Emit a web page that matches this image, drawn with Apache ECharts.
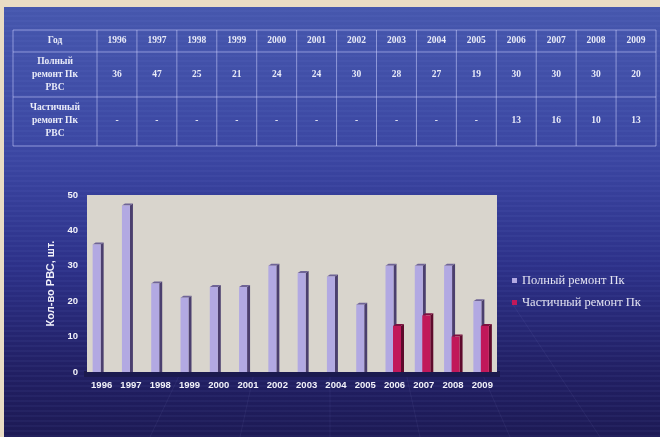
<!DOCTYPE html>
<html>
<head>
<meta charset="utf-8">
<script src="https://cdn.jsdelivr.net/npm/echarts@6/dist/echarts.min.js"></script>
<style>
  html, body { margin: 0; padding: 0; background: #e9dcc4; }
  #chart { width: 660px; height: 437px; }
</style>
</head>
<body>
<div id="chart"></div>
<script>
// Years shown in the table header and on the category axis
const years = ['1996','1997','1998','1999','2000','2001','2002','2003','2004','2005','2006','2007','2008','2009'];
// Full repair of tank roofs (Пк РВС), count per year
const fullRepair = [36, 47, 25, 21, 24, 24, 30, 28, 27, 19, 30, 30, 30, 20];
// Partial repair, recorded from 2006 onward
const partialRepair = [null, null, null, null, null, null, null, null, null, null, 13, 16, 10, 13];
const seriesNames = ['Полный ремонт Пк', 'Частичный ремонт Пк'];
const rowHeaders = [['Год'], ['Полный', 'ремонт Пк', 'РВС'], ['Частичный', 'ремонт Пк', 'РВС']];
const yTicks = [0, 10, 20, 30, 40, 50];

const chart = echarts.init(document.getElementById('chart'), null, { renderer: 'canvas' });

// 3D-looking bar: front face, darker side face and top cap
function bar3d(front, side, cap, shift) {
  return function (params, api) {
    const v = api.value(1);
    if (v == null || isNaN(v)) return;
    const top = api.coord([api.value(0), v]);
    const base = api.coord([api.value(0), 0]);
    const w = 8, d = 3, h = 2;
    const x = top[0] + shift;
    return {
      type: 'group',
      children: [
        { type: 'polygon', shape: { points: [[x + w, top[1]], [x + w + d, top[1] - h], [x + w + d, base[1]], [x + w, base[1]]] }, style: { fill: side } },
        { type: 'polygon', shape: { points: [[x, top[1]], [x + d, top[1] - h], [x + w + d, top[1] - h], [x + w, top[1]]] }, style: { fill: cap } },
        { type: 'rect', shape: { x: x, y: top[1], width: w, height: base[1] - top[1] }, style: { fill: front } }
      ]
    };
  };
}

// ---- background slide with faint horizontal stripes ----
const graphics = [];
graphics.push({
  type: 'rect', z: -20, silent: true,
  shape: { x: 4, y: 7, width: 656, height: 430 },
  style: {
    fill: new echarts.graphic.LinearGradient(0, 0, 0, 1, [
      { offset: 0, color: '#4657ad' },
      { offset: 0.35, color: '#3b46a2' },
      { offset: 0.6, color: '#2d3189' },
      { offset: 0.85, color: '#211f63' },
      { offset: 1, color: '#1d1a55' }
    ])
  }
});
for (let y = 11; y < 437; y += 5) {
  graphics.push({
    type: 'line', z: -19, silent: true,
    shape: { x1: 4, y1: y, x2: 660, y2: y },
    style: { stroke: 'rgba(170,185,255,0.10)', lineWidth: 1 }
  });
}
// faint globe mesh in the lower part
const mesh = [[150, 437, 215, 300], [240, 437, 270, 300], [330, 437, 330, 300], [420, 437, 390, 300], [510, 437, 450, 300], [600, 437, 510, 300]];
mesh.forEach(function (m) {
  graphics.push({
    type: 'line', z: -18, silent: true,
    shape: { x1: m[0], y1: m[1], x2: m[2], y2: m[3] },
    style: { stroke: 'rgba(160,170,230,0.08)', lineWidth: 1 }
  });
});

// ---- data table ----
const tLeft = 13, tRight = 656, firstColRight = 97;
const rowY = [30, 52, 97, 146];
const colW = (tRight - firstColRight) / years.length;
const lineStyle = { stroke: 'rgba(205,210,255,0.55)', lineWidth: 1 };
rowY.forEach(function (y) {
  graphics.push({ type: 'line', z: -5, silent: true, shape: { x1: tLeft, y1: y, x2: tRight, y2: y }, style: lineStyle });
});
[tLeft, firstColRight].concat(years.map(function (_, i) { return firstColRight + colW * (i + 1); })).forEach(function (x) {
  graphics.push({ type: 'line', z: -5, silent: true, shape: { x1: x, y1: rowY[0], x2: x, y2: rowY[3] }, style: lineStyle });
});
const cellFont = 'bold 9.5px "Liberation Serif", "DejaVu Serif", serif';
function cellText(str, cx, cy) {
  graphics.push({
    type: 'text', z: -4, silent: true,
    style: { text: str, x: cx, y: cy, textAlign: 'center', textVerticalAlign: 'middle', font: cellFont, fill: '#e9ebf8' }
  });
}
const firstCx = (tLeft + firstColRight) / 2;
const rowMid = [41, 75, 121];
rowHeaders.forEach(function (lines, r) {
  const n = lines.length;
  lines.forEach(function (ln, k) {
    cellText(ln, firstCx, rowMid[r] + (k - (n - 1) / 2) * 13);
  });
});
years.forEach(function (yr, i) {
  const cx = firstColRight + colW * (i + 0.5);
  cellText(yr, cx, rowMid[0]);
  cellText(String(fullRepair[i]), cx, rowMid[1]);
  cellText(partialRepair[i] == null ? '-' : String(partialRepair[i]), cx, rowMid[2]);
});

// dark floor below the plot area
graphics.push({
  type: 'rect', z: -3, silent: true,
  shape: { x: 84, y: 371, width: 416, height: 6 },
  style: { fill: '#1b1a4e' }
});

const option = {
  backgroundColor: 'transparent',
  animation: false,
  graphic: graphics,
  grid: {
    left: 87, right: 163, top: 195, bottom: 65,
    show: true, backgroundColor: '#d9d5cd', borderWidth: 0
  },
  legend: {
    orient: 'vertical',
    left: 507, top: 269,
    itemWidth: 5, itemHeight: 5, itemGap: 9,
    icon: 'rect',
    textStyle: { color: '#e4e4f2', fontSize: 12.5, fontFamily: '"Liberation Serif", "DejaVu Serif", serif' },
    data: seriesNames
  },
  xAxis: {
    type: 'category',
    data: years,
    axisLine: { show: false },
    axisTick: { show: false },
    axisLabel: {
      color: '#f2f2fa', fontSize: 9.5, fontWeight: 'bold', margin: 8,
      fontFamily: '"Liberation Sans Narrow", "Arial Narrow", "Liberation Sans", sans-serif'
    }
  },
  yAxis: {
    type: 'value',
    min: yTicks[0], max: yTicks[yTicks.length - 1], interval: 10,
    name: 'Кол-во РВС, шт.',
    nameLocation: 'middle', nameRotate: 90, nameGap: 20,
    nameTextStyle: { color: '#f0f0fa', fontSize: 11, fontWeight: 'bold', fontFamily: '"Liberation Sans Narrow", "Liberation Sans", sans-serif' },
    axisLine: { show: false },
    axisTick: { show: false },
    splitLine: { show: false },
    axisLabel: {
      color: '#f2f2fa', fontSize: 9.5, fontWeight: 'bold', margin: 9,
      fontFamily: '"Liberation Sans Narrow", "Arial Narrow", "Liberation Sans", sans-serif'
    }
  },
  series: [
    {
      name: seriesNames[0],
      type: 'custom',
      itemStyle: { color: '#b2a9e2' },
      renderItem: bar3d('#b2a9e2', '#4b3f6e', '#6f6496', -9),
      encode: { x: 0, y: 1 },
      data: fullRepair.map(function (v, i) { return [i, v]; })
    },
    {
      name: seriesNames[1],
      type: 'custom',
      itemStyle: { color: '#c1185a' },
      renderItem: bar3d('#c1185a', '#5e0a2c', '#7d1040', -1.5),
      encode: { x: 0, y: 1 },
      data: partialRepair.map(function (v, i) { return [i, v]; })
    }
  ]
};
chart.setOption(option);
</script>
</body>
</html>
